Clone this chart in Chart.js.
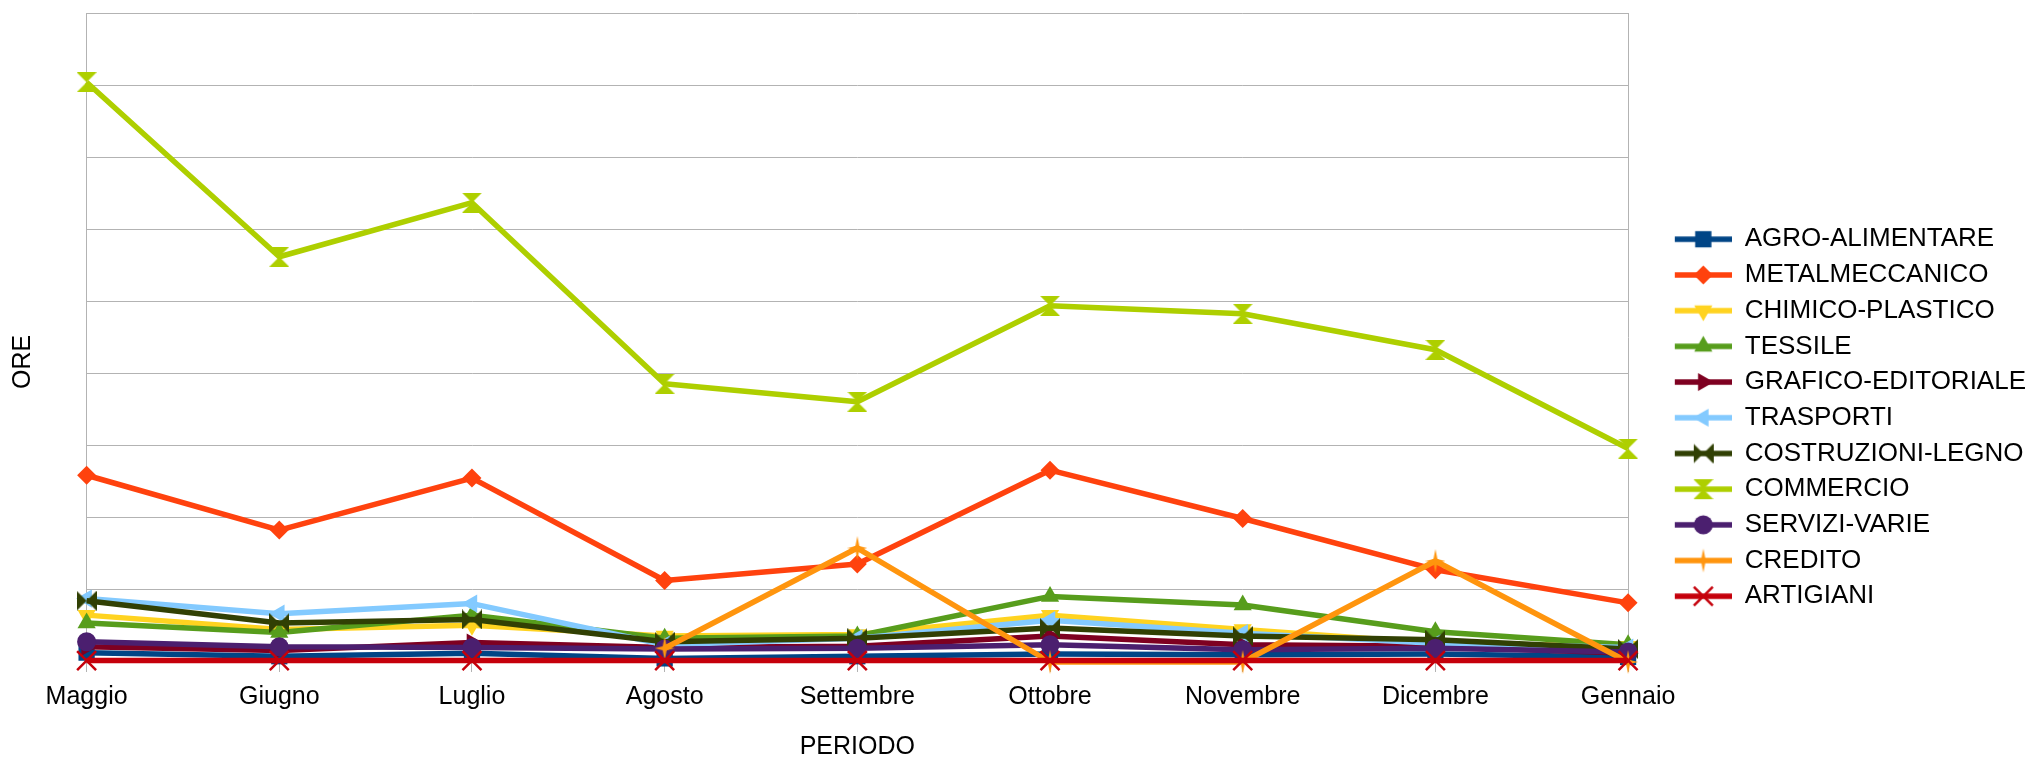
<!DOCTYPE html>
<html>
<head>
<meta charset="utf-8">
<title>Ore per settore</title>
<script src="https://cdn.jsdelivr.net/npm/chart.js@4/dist/chart.umd.min.js"></script>
<style>
  html, body { margin: 0; padding: 0; background: #fff; }
  #wrap { width: 2026px; height: 758px; position: relative; }
</style>
</head>
<body>
<div id="wrap"><canvas id="oreChart"></canvas></div>
<script>
// months on the x axis
const periodi = ['Maggio', 'Giugno', 'Luglio', 'Agosto', 'Settembre', 'Ottobre', 'Novembre', 'Dicembre', 'Gennaio'];

const settori = ['AGRO-ALIMENTARE', 'METALMECCANICO', 'CHIMICO-PLASTICO', 'TESSILE', 'GRAFICO-EDITORIALE',
  'TRASPORTI', 'COSTRUZIONI-LEGNO', 'COMMERCIO', 'SERVIZI-VARIE', 'CREDITO', 'ARTIGIANI'];

// ore per settore
const agroAlimentare   = [13, 8, 12, 5, 8, 11, 10, 11, 7];
const metalmeccanico   = [259, 183, 255, 113, 136, 266, 199, 128, 82];
const chimicoPlastico  = [65, 45, 51, 36, 38, 65, 45, 26, 22];
const tessile          = [54, 41, 65, 33, 36, 91, 79, 42, 24];
const graficoEditoriale = [21, 16, 27, 20, 22, 36, 24, 22, 12];
const trasporti        = [88, 67, 81, 24, 33, 58, 40, 26, 20];
const costruzioniLegno = [85, 54, 59, 28, 33, 47, 36, 31, 18];
const commercio        = [804, 562, 637, 386, 361, 494, 483, 433, 296];
const serviziVarie     = [28, 21, 20, 18, 19, 24, 17, 19, 14];
const credito          = [null, null, null, 19, 158, 0, 0, 140, 0];
const artigiani        = [2, 2, 2, 2, 2, 2, 2, 2, 2];

const serie = [agroAlimentare, metalmeccanico, chimicoPlastico, tessile, graficoEditoriale,
  trasporti, costruzioniLegno, commercio, serviziVarie, credito, artigiani];

const colori = ['#004586', '#ff420e', '#ffd320', '#579d1c', '#7e0021',
  '#83caff', '#314004', '#aecf00', '#4b1f6f', '#ff950e', '#c5000b'];

// small canvases for the markers chart.js doesn't have
function makeCanvas(w, h, draw) {
  const c = document.createElement('canvas');
  c.width = w; c.height = h;
  draw(c.getContext('2d'));
  return c;
}

const bowtie = makeCanvas(20, 20, g => {
  g.fillStyle = colori[6];
  g.beginPath();
  g.moveTo(0, 0); g.lineTo(10, 10); g.lineTo(0, 20); g.closePath();
  g.moveTo(20, 0); g.lineTo(10, 10); g.lineTo(20, 20); g.closePath();
  g.fill();
});

const hourglass = makeCanvas(20, 20, g => {
  g.fillStyle = colori[7];
  g.beginPath();
  g.moveTo(0, 0); g.lineTo(20, 0); g.lineTo(10, 10); g.closePath();
  g.moveTo(0, 20); g.lineTo(20, 20); g.lineTo(10, 10); g.closePath();
  g.fill();
});

const star = makeCanvas(20, 24, g => {
  g.fillStyle = colori[9];
  g.beginPath();
  g.moveTo(10, 0); g.lineTo(12, 10); g.lineTo(20, 12); g.lineTo(12, 14);
  g.lineTo(10, 24); g.lineTo(8, 14); g.lineTo(0, 12); g.lineTo(8, 10);
  g.closePath();
  g.fill();
});

const marker = [
  { style: 'rect', radius: 11.5 },
  { style: 'rectRot', radius: 9.5 },
  { style: 'triangle', radius: 10.5, rotation: 180 },
  { style: 'triangle', radius: 10.5 },
  { style: 'triangle', radius: 10.5, rotation: 90 },
  { style: 'triangle', radius: 10.5, rotation: 270 },
  { style: bowtie, radius: 10 },
  { style: hourglass, radius: 10 },
  { style: 'circle', radius: 9.5 },
  { style: star, radius: 10 },
  { style: 'crossRot', radius: 13.4, border: 2.5 }
];

// legend sample: line + marker, with empty room on the left to push it off the plot
function legendIcon(i) {
  const m = marker[i];
  return makeCanvas(94, 28, g => {
    g.strokeStyle = colori[i];
    g.lineWidth = 5.5;
    g.beginPath();
    g.moveTo(37, 14); g.lineTo(94, 14);
    g.stroke();
    g.fillStyle = colori[i];
    g.lineWidth = m.border || 0;
    Chart.helpers.drawPoint(g, {
      pointStyle: m.style, rotation: m.rotation || 0,
      radius: m.radius, borderWidth: m.border || 0
    }, 65.5, 14);
  });
}

const font = 'Liberation Sans, Arial, sans-serif';
Chart.defaults.font.family = font;
Chart.defaults.color = '#000';

const datasets = settori.map((nome, i) => ({
  label: nome,
  data: serie[i],
  borderColor: colori[i],
  backgroundColor: colori[i],
  borderWidth: 5.5,
  borderJoinStyle: 'round',
  tension: 0,
  fill: false,
  clip: false,
  pointStyle: marker[i].style,
  pointRotation: marker[i].rotation || 0,
  pointRadius: marker[i].radius,
  pointBorderWidth: marker[i].border || 0,
  order: settori.length - 1 - i
}));

const icons = settori.map((_, i) => legendIcon(i));

new Chart(document.getElementById('oreChart'), {
  type: 'line',
  data: { labels: periodi, datasets: datasets },
  options: {
    responsive: true,
    maintainAspectRatio: false,
    animation: false,
    events: [],
    layout: { autoPadding: false, padding: { top: 13, right: -10 } },
    scales: {
      x: {
        grid: {
          color: c => (c.index === periodi.length - 1 ? '#b3b3b3' : 'rgba(0,0,0,0)'),
          tickColor: '#b3b3b3',
          tickLength: 10
        },
        border: { color: '#b3b3b3' },
        ticks: { font: { size: 25 }, padding: 10, maxRotation: 0, autoSkip: false },
        title: {
          display: true, text: 'PERIODO',
          font: { size: 25, lineHeight: 0.9 },
          padding: { top: 13.5, bottom: 0 }
        }
      },
      y: {
        min: 0,
        max: 900,
        ticks: { display: false, stepSize: 100 },
        grid: { color: '#b3b3b3', drawTicks: false },
        border: { color: '#b3b3b3' },
        title: {
          display: true, text: 'ORE       ',
          font: { size: 25 },
          padding: { top: 8, bottom: 48.6 }
        }
      }
    },
    plugins: {
      tooltip: { enabled: false },
      legend: {
        position: 'right',
        title: { display: true, text: '', font: { size: 15, lineHeight: 1 }, padding: { top: 49.5, bottom: 0 } },
        labels: {
          usePointStyle: true,
          pointStyleWidth: 94,
          padding: 9.7,
          font: { size: 26 },
          color: '#000',
          generateLabels: chart => chart.data.datasets.map((ds, i) => ({
            text: ds.label,
            pointStyle: icons[i],
            rotation: 0,
            fillStyle: ds.borderColor,
            strokeStyle: ds.borderColor,
            lineWidth: 0,
            hidden: false,
            datasetIndex: i
          }))
        }
      }
    }
  }
});
</script>
</body>
</html>
